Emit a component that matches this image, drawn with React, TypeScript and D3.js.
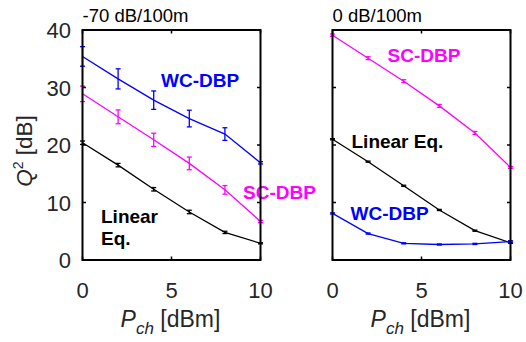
import React from "react";
import * as d3 from "d3";

const pch = [0, 2, 4, 6, 8, 10];
// Left panel: -70 dB/100m
const leftWC = [35.4, 31.5, 27.8, 24.6, 21.9, 16.9];
const leftWCErr = [1.7, 1.75, 1.6, 1.45, 1.1, 0.2];
const leftSC = [28.9, 24.9, 20.9, 16.8, 12.2, 6.7];
const leftSCErr = [1.35, 1.2, 1.15, 1.1, 0.75, 0.2];
const leftLin = [20.4, 16.5, 12.3, 8.35, 4.8, 2.9];
const leftLinErr = [0.3, 0.3, 0.3, 0.3, 0.2, 0.1];
// Right panel: 0 dB/100m
const rightSC = [39.1, 35.1, 31.1, 26.8, 22.1, 16.1];
const rightSCErr = [0.2, 0.25, 0.25, 0.25, 0.25, 0.15];
const rightLin = [21.0, 17.1, 12.9, 8.7, 5.1, 3.0];
const rightLinErr = [0.1, 0.1, 0.1, 0.1, 0.1, 0.1];
const rightWC = [8.1, 4.6, 2.9, 2.7, 2.8, 3.2];
const rightWCErr = [0.1, 0.1, 0.1, 0.1, 0.1, 0.15];

const xTicks = [0, 5, 10];
const yTicks = [0, 10, 20, 30, 40];

const BLUE = "#0000ff";
const MAG = "#ff00ff";
const BLK = "#000000";
const FONT = "Liberation Sans, Arial, sans-serif";

type Series = { vals: number[]; err: number[]; color: string };

function Panel({ x0, title, series, showY, labels }: {
  x0: number; title: string; series: Series[]; showY: boolean;
  labels: { text: string[]; x: number; y: number; color: string }[];
}) {
  const w = 178;
  const x = d3.scaleLinear().domain([0, 10]).range([x0, x0 + w]);
  const y = d3.scaleLinear().domain([0, 40]).range([260, 30]);
  const line = d3.line<number>().x((_, i) => x(pch[i])).y((d) => y(d));
  const tl = 3.5;
  return (
    <g>
      <text x={x0} y={22} fontFamily={FONT} fontSize={18.5} fill="#000">{title}</text>
      {series.map((s, si) => (
        <g key={si}>
          <path d={line(s.vals) || ""} fill="none" stroke={s.color} strokeWidth={1.3} />
          {s.vals.map((v, i) => {
            const cx = x(pch[i]);
            const hw = 2.5;
            return (
              <g key={i} stroke={s.color} strokeWidth={1.3}>
                <line x1={cx} x2={cx} y1={y(v - s.err[i])} y2={y(v + s.err[i])} />
                <line x1={cx - hw} x2={cx + hw} y1={y(v - s.err[i])} y2={y(v - s.err[i])} />
                <line x1={cx - hw} x2={cx + hw} y1={y(v + s.err[i])} y2={y(v + s.err[i])} />
              </g>
            );
          })}
        </g>
      ))}
      {labels.map((l, li) => (
        <text key={li} x={l.x} y={l.y} fontFamily={FONT} fontSize={19} fontWeight="bold" fill={l.color}>
          {l.text.map((t, ti) => (
            <tspan key={ti} x={l.x} dy={ti === 0 ? 0 : 22}>{t}</tspan>
          ))}
        </text>
      ))}
      <rect x={x0} y={30} width={w} height={230} fill="none" stroke="#000" strokeWidth={2} />
      {xTicks.map((t) => (
        <g key={"x" + t}>
          <line x1={x(t)} x2={x(t)} y1={260} y2={260 - tl} stroke="#000" strokeWidth={1.5} />
          <line x1={x(t)} x2={x(t)} y1={30} y2={30 + tl} stroke="#000" strokeWidth={1.5} />
          <text x={x(t)} y={298} textAnchor="middle" fontFamily={FONT} fontSize={22} fill="#262626">{t}</text>
        </g>
      ))}
      {yTicks.map((t) => (
        <g key={"y" + t}>
          <line x1={x0} x2={x0 + tl} y1={y(t)} y2={y(t)} stroke="#000" strokeWidth={1.5} />
          <line x1={x0 + w} x2={x0 + w - tl} y1={y(t)} y2={y(t)} stroke="#000" strokeWidth={1.5} />
          {showY && (
            <text x={x0 - 11.5} y={y(t) + 8} textAnchor="end" fontFamily={FONT} fontSize={22} fill="#262626">{t}</text>
          )}
        </g>
      ))}
      <text x={x0 + w / 2 - 1} y={327} textAnchor="middle" fontFamily={FONT} fontSize={23} fill="#262626">
        <tspan fontStyle="italic">P</tspan>
        <tspan fontStyle="italic" fontSize={17} dy={7}>ch</tspan>
        <tspan dy={-7}> [dBm]</tspan>
      </text>
    </g>
  );
}

export default function App() {
  return (
    <svg width={526} height={342} style={{ position: "absolute", left: 0, top: 0, background: "#fff" }}>
      <rect width={526} height={342} fill="#fff" />
      <text transform="translate(32,151) rotate(-90)" textAnchor="middle" fontFamily={FONT} fontSize={22.5} fill="#262626">
        <tspan fontStyle="italic">Q</tspan>
        <tspan fontSize={14} dy={-9}>2</tspan>
        <tspan dy={9}> [dB]</tspan>
      </text>
      <Panel
        x0={82.5}
        title="-70 dB/100m"
        showY={true}
        series={[
          { vals: leftWC, err: leftWCErr, color: BLUE },
          { vals: leftSC, err: leftSCErr, color: MAG },
          { vals: leftLin, err: leftLinErr, color: BLK },
        ]}
        labels={[
          { text: ["WC-DBP"], x: 161, y: 87, color: BLUE },
          { text: ["SC-DBP"], x: 243, y: 198.5, color: MAG },
          { text: ["Linear", "Eq."], x: 101, y: 223, color: BLK },
        ]}
      />
      <Panel
        x0={332.5}
        title="0 dB/100m"
        showY={false}
        series={[
          { vals: rightSC, err: rightSCErr, color: MAG },
          { vals: rightLin, err: rightLinErr, color: BLK },
          { vals: rightWC, err: rightWCErr, color: BLUE },
        ]}
        labels={[
          { text: ["SC-DBP"], x: 387.5, y: 62, color: MAG },
          { text: ["Linear Eq."], x: 351.5, y: 147.5, color: BLK },
          { text: ["WC-DBP"], x: 350.5, y: 220, color: BLUE },
        ]}
      />
    </svg>
  );
}
